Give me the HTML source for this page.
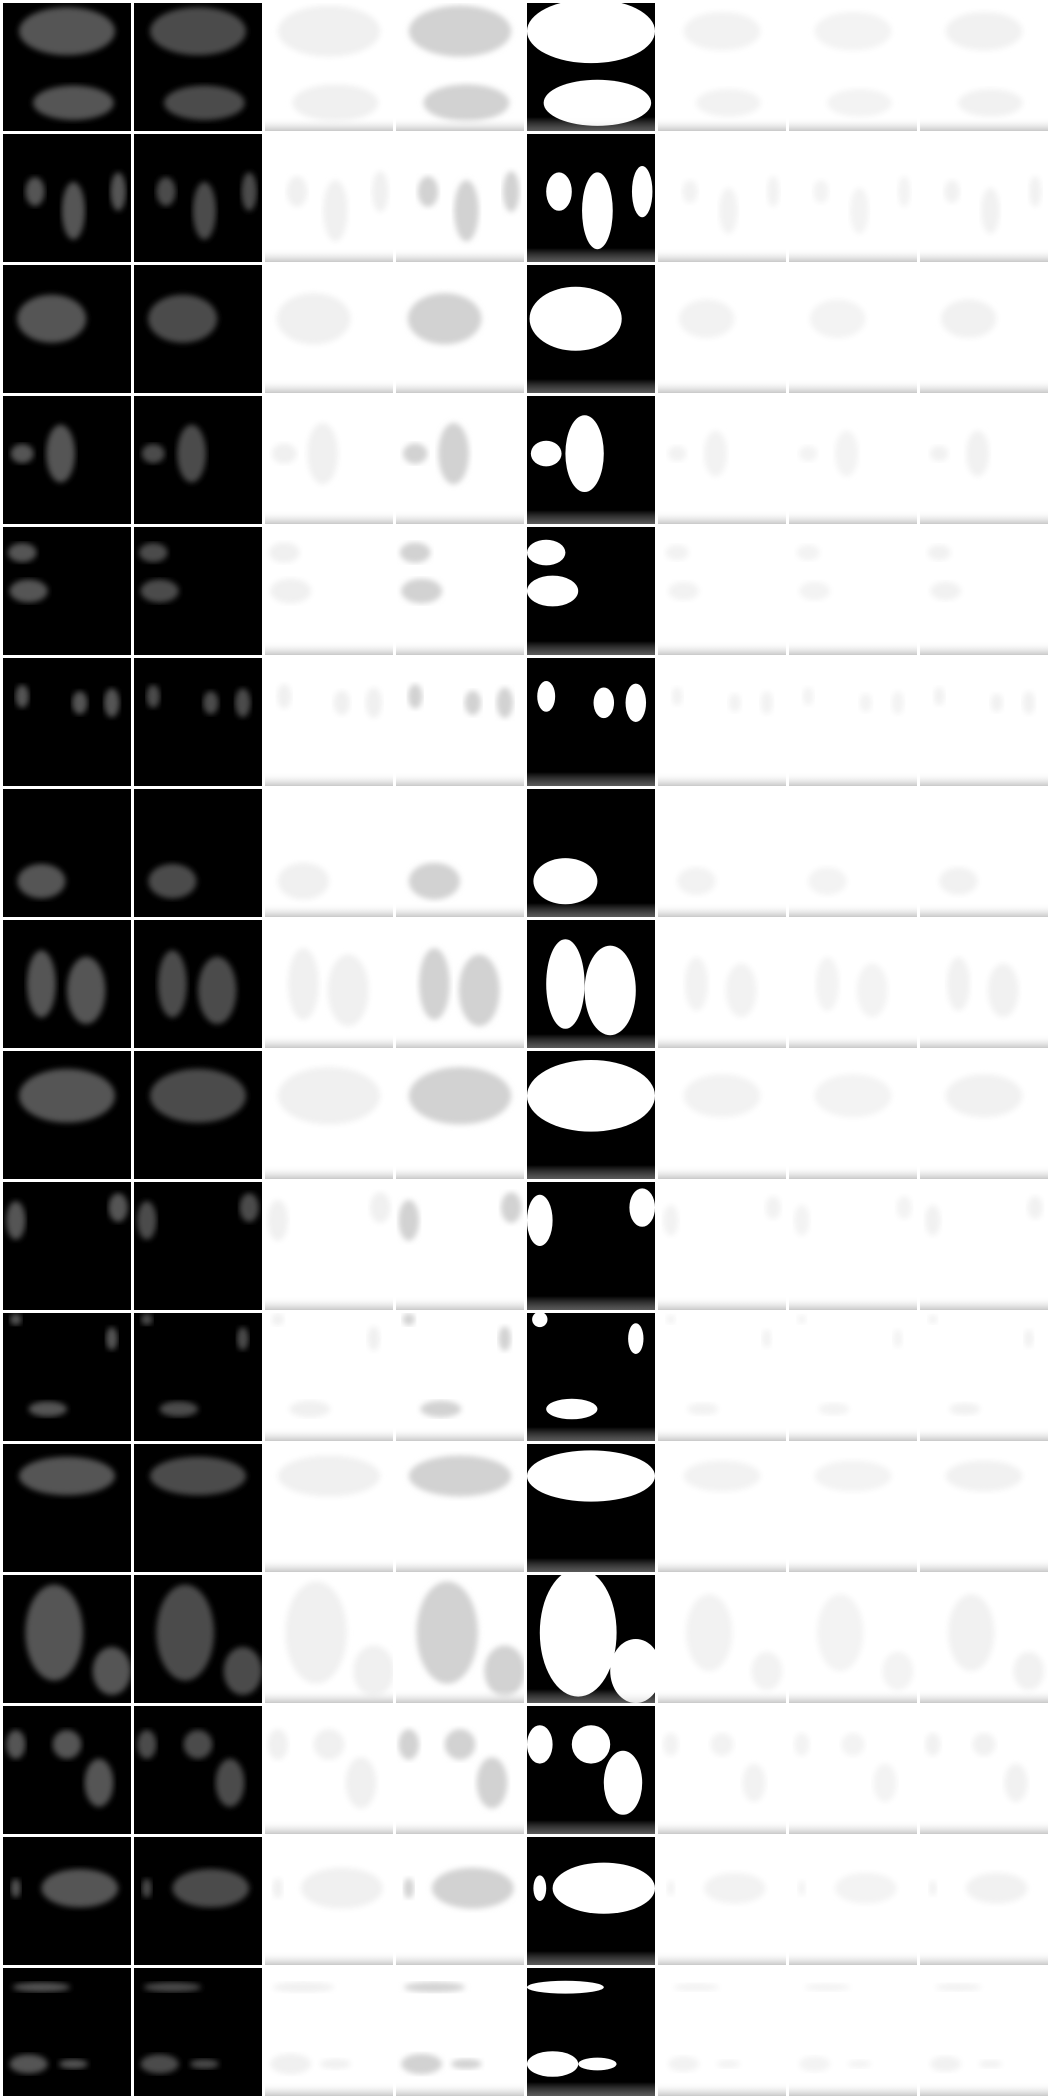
<!DOCTYPE html>
<html><head><meta charset="utf-8"><style>
html,body{margin:0;padding:0;background:#fff;}
svg{display:block;}
</style></head><body>
<svg id="grid" width="1051" height="2099" xmlns="http://www.w3.org/2000/svg">
<defs>
<linearGradient id="bot" x1="0" y1="0" x2="0" y2="1">
<stop offset="0" stop-color="#fff" stop-opacity="0"/>
<stop offset="1" stop-color="#bbb" stop-opacity="0.8"/>
</linearGradient>
<filter id="blur"><feGaussianBlur stdDeviation="3"/></filter>
</defs>
</svg>
<script>
const rowBlobs = [
 [[0.5,0.22,0.5,0.25],[0.55,0.78,0.42,0.18]],
 [[0.25,0.45,0.1,0.15],[0.55,0.6,0.12,0.3],[0.9,0.45,0.08,0.2]],
 [[0.38,0.42,0.36,0.25]],
 [[0.15,0.45,0.12,0.1],[0.45,0.45,0.15,0.3]],
 [[0.15,0.2,0.15,0.1],[0.2,0.5,0.2,0.12]],
 [[0.15,0.3,0.07,0.12],[0.6,0.35,0.08,0.12],[0.85,0.35,0.08,0.15]],
 [[0.3,0.72,0.25,0.18]],
 [[0.3,0.5,0.15,0.35],[0.65,0.55,0.2,0.35]],
 [[0.5,0.35,0.5,0.28]],
 [[0.1,0.3,0.1,0.2],[0.9,0.2,0.1,0.15]],
 [[0.1,0.05,0.06,0.06],[0.85,0.2,0.06,0.12],[0.35,0.75,0.2,0.08]],
 [[0.5,0.25,0.5,0.2]],
 [[0.4,0.45,0.3,0.5],[0.85,0.75,0.2,0.25]],
 [[0.1,0.3,0.1,0.15],[0.5,0.3,0.15,0.15],[0.75,0.6,0.15,0.25]],
 [[0.6,0.4,0.4,0.2],[0.1,0.4,0.05,0.1]],
 [[0.3,0.15,0.3,0.05],[0.2,0.75,0.2,0.1],[0.55,0.75,0.15,0.05]]
];
const colBg = ['#000','#000','#fff','#fff','#000','#fff','#fff','#fff'];
const colBlob = ['#555','#4c4c4c','#f0f0f0','#d2d2d2','#fff','#f2f2f2','#f3f3f3','#f1f1f1'];
const colScale = [0.75,0.75,0.8,0.8,1,0.6,0.6,0.6];
const svg = document.getElementById('grid');
const NS='http://www.w3.org/2000/svg';
const P=131, S=128, O=3;
for(let r=0;r<16;r++){
 for(let c=0;c<8;c++){
  const g=document.createElementNS(NS,'g');
  
  
  const x=O+c*P, y=O+r*P;
  const cp=document.createElementNS(NS,'clipPath');
  cp.setAttribute('id','cp'+r+'_'+c);
  const cr=document.createElementNS(NS,'rect');
  cr.setAttribute('x',x);cr.setAttribute('y',y);cr.setAttribute('width',S);cr.setAttribute('height',S);
  cp.appendChild(cr);g.appendChild(cp);
  const inner=document.createElementNS(NS,'g');
  inner.setAttribute('clip-path','url(#cp'+r+'_'+c+')');
  const bg=document.createElementNS(NS,'rect');
  bg.setAttribute('x',x);bg.setAttribute('y',y);bg.setAttribute('width',S);bg.setAttribute('height',S);
  bg.setAttribute('fill',colBg[c]);
  inner.appendChild(bg);
  rowBlobs[r].forEach(b=>{
   const e=document.createElementNS(NS,'ellipse');
   e.setAttribute('cx',x+b[0]*S);e.setAttribute('cy',y+b[1]*S);
   e.setAttribute('rx',b[2]*S*colScale[c]);e.setAttribute('ry',b[3]*S*colScale[c]);
   e.setAttribute('fill',colBlob[c]);
   if(c!==4) e.setAttribute('filter','url(#blur)');
   inner.appendChild(e);
  });
  if(colBg[c]==='#fff' || c===4){
   const gr=document.createElementNS(NS,'rect');
   gr.setAttribute('x',x);gr.setAttribute('y',y+S-14);gr.setAttribute('width',S);gr.setAttribute('height',14);
   gr.setAttribute('fill','url(#bot)');
   if(c===4) gr.setAttribute('opacity','0.6');
   inner.appendChild(gr);
  }
  g.appendChild(inner);
  svg.appendChild(g);
 }
}
</script>
</body></html>
